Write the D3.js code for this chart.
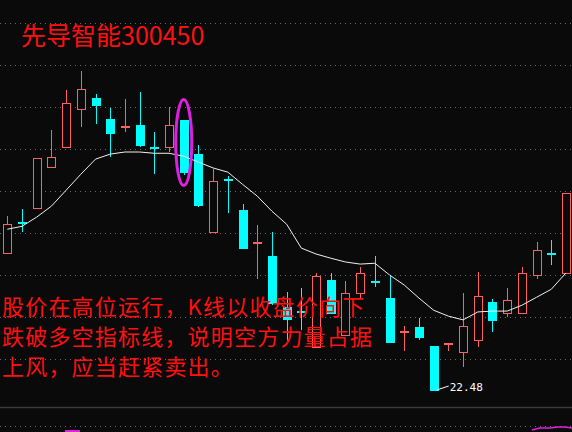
<!DOCTYPE html>
<html>
<head>
<meta charset="utf-8">
<script src="https://cdn.jsdelivr.net/npm/d3@7"></script>
<style>
  body { margin: 0; background: #0a0a0a; }
  svg { display: block; }
</style>
</head>
<body>
<svg id="chart" width="572" height="432"></svg>
<script>
// daily candles, open / high / low / close
const opens  = [25.74,26.48,26.81,27.79,28.27,29.17,29.43,28.93,28.76,28.79,28.28,28.27,28.91,28.10,26.24,27.50,26.77,25.99,25.67,24.46,24.37,23.50,25.10,23.79,24.79,25.08,24.67,23.88,23.98,23.53,23.60,23.38,23.67,24.58,24.31,24.31,25.22,25.74,25.27]
const highs  = [26.62,26.79,28.00,28.67,29.62,30.08,29.53,29.19,29.41,29.58,28.62,29.22,28.91,28.31,27.74,27.58,26.91,26.41,26.24,24.81,24.91,25.27,25.27,25.08,25.41,25.67,25.19,24.00,24.19,23.53,23.60,24.79,25.29,24.65,24.91,25.41,26.00,26.05,27.17]
const lows   = [25.74,26.24,26.81,27.79,28.27,28.74,28.81,28.03,28.62,28.27,27.62,28.15,27.60,26.84,26.24,26.69,25.86,25.12,24.50,23.60,23.91,23.50,24.31,23.79,24.67,24.93,23.62,23.41,23.67,22.48,23.41,23.03,23.50,23.86,24.22,24.31,25.12,25.46,25.27]
const closes = [26.43,26.45,28.00,28.03,29.31,29.65,29.27,28.60,28.77,28.31,28.27,28.79,27.67,26.88,27.46,27.48,25.86,26.00,24.55,24.17,24.36,25.19,24.31,24.79,25.27,25.07,23.62,23.89,23.74,22.48,23.60,24.00,24.72,24.15,24.62,25.27,25.81,25.72,27.17]
// long/short index line
const maLine = [26.31,26.38,26.60,26.86,27.24,27.62,27.98,28.10,28.15,28.15,28.12,28.12,28.05,27.91,27.77,27.67,27.38,27.10,26.74,26.43,25.86,25.72,25.62,25.53,25.48,25.50,25.22,24.98,24.67,24.38,24.24,24.15,24.34,24.36,24.36,24.50,24.69,24.88,25.27]
const gridPrices = [23.22,24.22,25.22,26.22,27.22,28.22,29.22,30.22,31.22]
const lowLabel = "22.48"
const title = "先导智能300450"
const noteLines = ["股价在高位运行，K线以收盘价向下", "跌破多空指标线，说明空方力量占据", "上风，应当赶紧卖出。"]
const markedIndex = 12

const svg = d3.select("#chart")
const x = d3.scaleLinear().domain([0, opens.length - 1]).range([7.3, 566])
const y = d3.scaleLinear().domain([22.48, 30.08]).range([390, 71])
const up = "#ff6060", down = "#00ffff"

svg.append("rect").attr("width", 572).attr("height", 432).attr("fill", "#0a0a0a")

svg.selectAll("line.grid").data(gridPrices).join("line")
    .attr("x1", 0).attr("x2", 572)
    .attr("y1", d => Math.round(y(d)) + 0.5).attr("y2", d => Math.round(y(d)) + 0.5)
    .attr("stroke", "#6a6a6a").attr("stroke-dasharray", "1,4")

// panel divider and lower indicator area
svg.append("line").attr("x1", 0).attr("x2", 572).attr("y1", 407.5).attr("y2", 407.5).attr("stroke", "#3a3a3a").attr("stroke-width", 1.5)
svg.append("line").attr("x1", 0).attr("x2", 572).attr("y1", 426.5).attr("y2", 426.5).attr("stroke", "#6a6a6a").attr("stroke-dasharray", "1,4")
svg.append("path").attr("d", "M532,430 L540,428 L550,428 L558,427 L565,427 L572,428").attr("fill", "none").attr("stroke", "#e020e0").attr("stroke-width", 1.5)
svg.append("line").attr("x1", 65).attr("x2", 80).attr("y1", 431).attr("y2", 431).attr("stroke", "#e020e0").attr("stroke-width", 2)

const idx = d3.range(opens.length)
const g = svg.append("g").attr("shape-rendering", "crispEdges")
g.selectAll("line.wick").data(idx).join("line")
    .attr("x1", i => Math.round(x(i)) + 0.5).attr("x2", i => Math.round(x(i)) + 0.5)
    .attr("y1", i => y(highs[i])).attr("y2", i => y(lows[i]))
    .attr("stroke", i => closes[i] >= opens[i] ? up : down)

const bw = 9
g.selectAll("rect.body").data(idx).join("rect")
    .attr("x", i => Math.round(x(i)) - Math.floor(bw / 2) + 0.5)
    .attr("y", i => Math.round(y(Math.max(opens[i], closes[i]))) + 0.5)
    .attr("width", bw - 1)
    .attr("height", i => Math.max(1, Math.round(Math.abs(y(opens[i]) - y(closes[i])))))
    .attr("fill", i => closes[i] > opens[i] ? "#0a0a0a" : (closes[i] == opens[i] ? up : down))
    .attr("stroke", i => closes[i] >= opens[i] ? up : down)
    .attr("stroke-width", 1)

svg.append("path").datum(idx)
    .attr("d", d3.line().x(i => x(i)).y(i => y(maLine[i])))
    .attr("fill", "none").attr("stroke", "#f0f0f0").attr("stroke-width", 1)

// marked candle
svg.append("ellipse")
    .attr("cx", x(markedIndex)).attr("cy", (y(highs[markedIndex]) + y(lows[markedIndex])) / 2 - 5)
    .attr("rx", 8).attr("ry", 43)
    .attr("fill", "none").attr("stroke", "#e020e0").attr("stroke-width", 3)

// lowest price label
const li = lows.indexOf(d3.min(lows))
svg.append("line").attr("x1", x(li) + 3).attr("y1", y(lows[li])).attr("x2", x(li) + 15).attr("y2", y(lows[li]) - 4).attr("stroke", "#fff")
svg.append("text").attr("x", x(li) + 16).attr("y", y(lows[li]) + 1)
    .attr("fill", "#fff").attr("font-family", "DejaVu Sans Mono").attr("font-size", 11).text(lowLabel)

svg.append("text").attr("x", 21).attr("y", 45)
    .attr("fill", "#ff1010").attr("font-family", "'Noto Sans CJK SC'").attr("font-size", 25).text(title)

svg.selectAll("text.note").data(noteLines).join("text")
    .attr("x", 2).attr("y", (d, i) => 315 + i * 30)
    .attr("fill", "#ff1010").attr("font-family", "'Noto Sans CJK SC'").attr("font-size", 22)
    .attr("letter-spacing", 1.2)
    .text(d => d)
</script>
</body>
</html>
